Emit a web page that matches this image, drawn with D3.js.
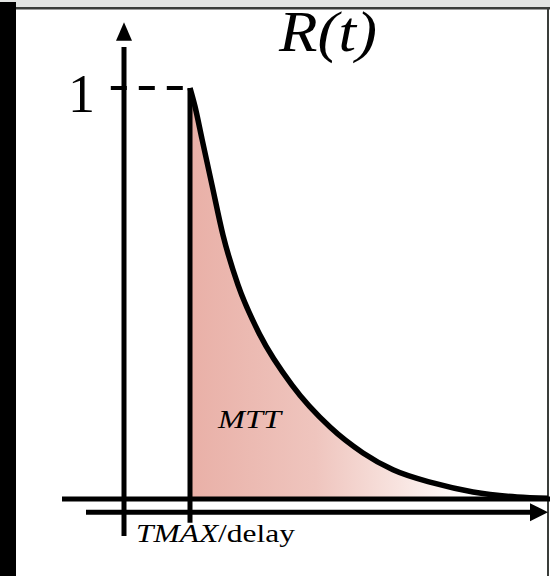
<!DOCTYPE html>
<html>
<head>
<meta charset="utf-8">
<script src="https://cdn.jsdelivr.net/npm/d3@7"></script>
<style>
  html, body { margin: 0; padding: 0; background: #fff; }
  svg { display: block; }
</style>
</head>
<body>
<div id="chart"></div>
<script>
// residue function R(t) (t in arbitrary units after TMAX)
const tValues = [0, 0.125, 0.3, 0.55, 0.825, 1.2, 1.75, 2.55, 3.5, 4.325, 5.075, 6.075, 7.075, 8.175, 8.95];
const rValues = [1, 0.955, 0.876, 0.764, 0.642, 0.521, 0.399, 0.277, 0.175, 0.112, 0.071, 0.039, 0.017, 0.005, 0.002];
const yTickValues = [1];
const yTickLabels = ['1'];

const w = 550, h = 576;
const serif = '"Liberation Serif", "DejaVu Serif", "Times New Roman", Times, serif';

const xScale = d3.scaleLinear().domain([0, 9]).range([190, 550]);
const yScale = d3.scaleLinear().domain([0, 1]).range([499, 88]);

const points = tValues.map((t, i) => ({ t: t, r: rValues[i] }));

const svg = d3.select('#chart')
  .append('svg')
  .attr('width', w)
  .attr('height', h);

// frame of the screenshot
svg.append('rect').attr('x', 0).attr('y', 0).attr('width', w).attr('height', 8).attr('fill', '#e3e5e3');
svg.append('rect').attr('x', 0).attr('y', 7).attr('width', w).attr('height', 2.5).attr('fill', '#3a3d3a');
svg.append('rect').attr('x', 547).attr('y', 8).attr('width', 2).attr('height', h).attr('fill', '#3a3d3a');
svg.append('rect').attr('x', 0).attr('y', 2).attr('width', 16).attr('height', h).attr('fill', '#000');

const defs = svg.append('defs');
const grad = defs.append('linearGradient')
  .attr('id', 'fillGrad')
  .attr('gradientUnits', 'userSpaceOnUse')
  .attr('x1', xScale(0)).attr('x2', xScale(7))
  .attr('y1', 0).attr('y2', 0);
grad.append('stop').attr('offset', '0%').attr('stop-color', '#e9b0a7');
grad.append('stop').attr('offset', '45%').attr('stop-color', '#efc5be');
grad.append('stop').attr('offset', '75%').attr('stop-color', '#f8e4e0');
grad.append('stop').attr('offset', '100%').attr('stop-color', '#ffffff');

const area = d3.area()
  .x(d => xScale(d.t))
  .y0(yScale(0))
  .y1(d => yScale(d.r))
  .curve(d3.curveMonotoneX);

svg.append('path')
  .datum(points)
  .attr('d', area)
  .attr('fill', 'url(#fillGrad)');

// baseline R = 0
svg.append('line')
  .attr('x1', xScale(-3.2)).attr('x2', xScale(9))
  .attr('y1', yScale(0)).attr('y2', yScale(0))
  .attr('stroke', '#000').attr('stroke-width', 5);

// x axis with arrow
const xAxisR = -0.032;
svg.append('line')
  .attr('x1', xScale(-2.6)).attr('x2', xScale(8.6))
  .attr('y1', yScale(xAxisR)).attr('y2', yScale(xAxisR))
  .attr('stroke', '#000').attr('stroke-width', 5);
svg.append('path')
  .attr('d', d3.line()([
    [xScale(8.95), yScale(xAxisR)],
    [xScale(8.5), yScale(xAxisR) - 9],
    [xScale(8.5), yScale(xAxisR) + 9]
  ]) + 'Z')
  .attr('fill', '#000');

// y axis with arrow
const yAxisT = -1.65;
svg.append('line')
  .attr('x1', xScale(yAxisT)).attr('x2', xScale(yAxisT))
  .attr('y1', yScale(-0.09)).attr('y2', yScale(1.1))
  .attr('stroke', '#000').attr('stroke-width', 5);
svg.append('path')
  .attr('d', d3.line()([
    [xScale(yAxisT), yScale(1.16)],
    [xScale(yAxisT) - 8, yScale(1.115)],
    [xScale(yAxisT) + 8, yScale(1.115)]
  ]) + 'Z')
  .attr('fill', '#000');

// dashed level at R = 1
svg.selectAll('line.level')
  .data(yTickValues)
  .enter()
  .append('line')
  .attr('class', 'level')
  .attr('x1', xScale(-1.98)).attr('x2', xScale(0))
  .attr('y1', d => yScale(d)).attr('y2', d => yScale(d))
  .attr('stroke', '#000').attr('stroke-width', 4)
  .attr('stroke-dasharray', '16 12');

svg.selectAll('text.ytick')
  .data(yTickValues)
  .enter()
  .append('text')
  .attr('class', 'ytick')
  .attr('x', xScale(-3.05))
  .attr('y', d => yScale(d) + 24)
  .attr('font-family', serif)
  .attr('font-size', 54)
  .text((d, i) => yTickLabels[i]);

// vertical edge at TMAX
svg.append('line')
  .attr('x1', xScale(0)).attr('x2', xScale(0))
  .attr('y1', yScale(1)).attr('y2', yScale(-0.058))
  .attr('stroke', '#000').attr('stroke-width', 5);

// the curve
const line = d3.line()
  .x(d => xScale(d.t))
  .y(d => yScale(d.r))
  .curve(d3.curveMonotoneX);

svg.append('path')
  .datum(points)
  .attr('d', line)
  .attr('fill', 'none')
  .attr('stroke', '#000')
  .attr('stroke-width', 5.5)
  .attr('stroke-linejoin', 'round');

// labels
svg.append('text')
  .attr('x', 279).attr('y', 51)
  .attr('font-family', serif)
  .attr('font-size', 56)
  .attr('font-style', 'italic')
  .attr('textLength', 98)
  .attr('lengthAdjust', 'spacingAndGlyphs')
  .text('R(t)');

svg.append('text')
  .attr('x', 218).attr('y', 428)
  .attr('font-family', serif)
  .attr('font-size', 25)
  .attr('font-style', 'italic')
  .attr('textLength', 63)
  .attr('lengthAdjust', 'spacingAndGlyphs')
  .text('MTT');

const tl = svg.append('text')
  .attr('x', 136).attr('y', 542)
  .attr('font-family', serif)
  .attr('font-size', 25)
  .attr('textLength', 159)
  .attr('lengthAdjust', 'spacingAndGlyphs');
tl.append('tspan').attr('font-style', 'italic').text('TMAX');
tl.append('tspan').text('/delay');
</script>
</body>
</html>
